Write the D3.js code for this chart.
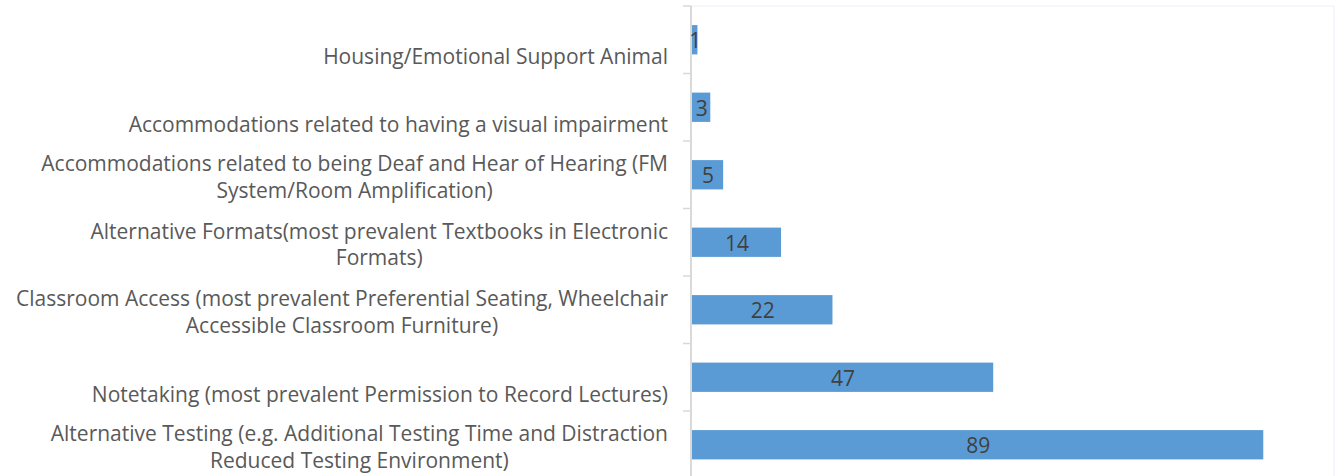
<!DOCTYPE html>
<html>
<head>
<meta charset="utf-8">
<script src="https://cdn.jsdelivr.net/npm/d3@7/dist/d3.min.js"></script>
<style>
  body { margin: 0; background: #fff; }
  svg { display: block; }
</style>
</head>
<body>
<svg id="chart" width="1335" height="476"></svg>
<script>
// categories top to bottom, each already split into its wrapped lines
const categories = [
  ['Housing/Emotional Support Animal'],
  ['Accommodations related to having a visual impairment'],
  ['Accommodations related to being Deaf and Hear of Hearing (FM', 'System/Room Amplification)'],
  ['Alternative Formats(most prevalent Textbooks in Electronic', 'Formats)'],
  ['Classroom Access (most prevalent Preferential Seating, Wheelchair', 'Accessible Classroom Furniture)'],
  ['Notetaking (most prevalent Permission to Record Lectures)'],
  ['Alternative Testing (e.g. Additional Testing Time and Distraction', 'Reduced Testing Environment)'],
];
const values = [1, 3, 5, 14, 22, 47, 89];

const barColor = '#5B9BD5';
const axisColor = '#d9d9d9';
const font = '"Open Sans", sans-serif';
const fontSize = 21;

const svg = d3.select('#chart');
const plotLeft = 691;
const plotRight = 1334;
const plotTop = 6;
const plotBottom = 478.5; // plot runs slightly past the bottom edge

const keys = categories.map((d, i) => i);

const x = d3.scaleLinear().domain([0, 100]).range([plotLeft, plotRight]);
const y = d3.scaleBand()
  .domain(keys)
  .range([plotTop, plotBottom])
  .paddingInner(0.566)
  .paddingOuter(0.283);

const gap = (y.step() - y.bandwidth()) / 2;

// faint plot border top and right
svg.append('line')
  .attr('x1', plotLeft).attr('x2', plotRight)
  .attr('y1', plotTop).attr('y2', plotTop)
  .attr('stroke', '#f0f5fa').attr('stroke-width', 1.5);
svg.append('line')
  .attr('x1', plotRight).attr('x2', plotRight)
  .attr('y1', plotTop).attr('y2', 476)
  .attr('stroke', '#f0f5fa').attr('stroke-width', 1.5);

// bars
svg.selectAll('rect.bar')
  .data(values)
  .enter()
  .append('rect')
  .attr('class', 'bar')
  .attr('x', x(0))
  .attr('y', (d, i) => y(i))
  .attr('width', (d) => x(d) - x(0))
  .attr('height', y.bandwidth())
  .attr('fill', barColor);

// category axis line + tick marks on band boundaries
svg.append('line')
  .attr('x1', plotLeft).attr('x2', plotLeft)
  .attr('y1', plotTop).attr('y2', 476)
  .attr('stroke', axisColor).attr('stroke-width', 2);

const boundaries = keys.map((k) => y(k) - gap).concat([y(keys.length - 1) + y.bandwidth() + gap]);
svg.selectAll('line.tick')
  .data(boundaries)
  .enter()
  .append('line')
  .attr('class', 'tick')
  .attr('x1', plotLeft - 8).attr('x2', plotLeft)
  .attr('y1', (d) => d).attr('y2', (d) => d)
  .attr('stroke', axisColor).attr('stroke-width', 1.5);

// value labels centered in bars
svg.selectAll('text.value')
  .data(values)
  .enter()
  .append('text')
  .attr('class', 'value')
  .attr('x', (d) => (x(0) + x(d)) / 2 + 1)
  .attr('y', (d, i) => y(i) + y.bandwidth() / 2 + 1)
  .attr('dy', '0.35em')
  .attr('text-anchor', 'middle')
  .style('font-family', font)
  .style('font-size', fontSize + 'px')
  .attr('fill', '#404040')
  .text((d) => d);

// category labels: block right-aligned at 668, lines centred within block
const labelRight = 668;
const lineHeight = 26.5;
categories.forEach((lines, i) => {
  const c = y(i) + y.bandwidth() / 2;
  const g = svg.append('g');
  const texts = lines.map((t, j) => g.append('text')
    .attr('y', lines.length === 1 ? c + 17 : c - 11 + j * lineHeight)
    .attr('dy', '0.35em')
    .attr('text-anchor', 'middle')
    .style('font-family', font)
    .style('font-size', fontSize + 'px')
    .attr('fill', '#595959')
    .text(t));
  const w = d3.max(texts, (t) => t.node().getComputedTextLength());
  texts.forEach((t) => t.attr('x', labelRight - w / 2));
});
</script>
</body>
</html>
